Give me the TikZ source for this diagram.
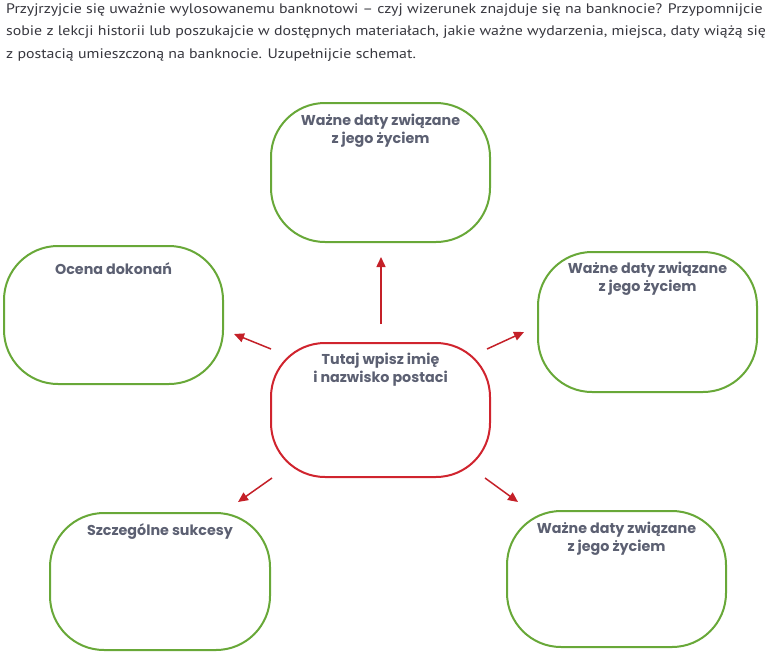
\documentclass[tikz,border=0pt]{standalone}
\usepackage{fontspec}
\setmainfont{PT Sans}
\newfontfamily\headfont[FakeStretch=1.15]{PT Sans}
\newfontfamily\lblfont{Poppins}
\usetikzlibrary{arrows.meta}
\definecolor{boxgreen}{RGB}{104,168,56}
\definecolor{boxred}{RGB}{208,36,46}
\definecolor{arrred}{RGB}{196,32,40}
\definecolor{labelgray}{RGB}{92,96,114}
\definecolor{headgray}{RGB}{55,55,62}
\begin{document}
\begin{tikzpicture}[x=1pt,y=-1pt,
  gbox/.style={draw=boxgreen,line width=2pt,rounded corners=54pt,minimum width=#1,inner sep=0pt},
  rbox/.style={draw=boxred,line width=2pt,rounded corners=54pt,inner sep=0pt},
  lbl/.style={text=labelgray,font=\lblfont\fontsize{14.3}{18}\selectfont\bfseries,align=center,anchor=north,inner sep=0pt},
  head/.style={text=headgray,font=\headfont\fontsize{13.8}{22.5}\selectfont,align=left,anchor=north west,inner sep=0pt},
  arr/.style={draw=arrred,line width=1.5pt,-{Triangle[length=10pt,width=9pt]}}
]
\useasboundingbox (0,0) rectangle (778,653);
\node[head] (hd) at (6,3) {Przyjrzyjcie się uważnie wylosowanemu banknotowi – czyj wizerunek znajduje się na banknocie? Przypomnijcie\\
sobie z lekcji historii lub poszukajcie w dostępnych materiałach, jakie ważne wydarzenia, miejsca, daty wiążą się\\
z postacią umieszczoną na banknocie. Uzupełnijcie schemat.};

\node[gbox=219pt,minimum height=139pt] (t) at (380.5,172.5) {};
\node[gbox=219pt,minimum height=138pt] (l) at (113.5,315) {};
\node[gbox=219pt,minimum height=140pt] (r) at (647.5,322) {};
\node[rbox,minimum width=219pt,minimum height=134pt] (c) at (380.5,410) {};
\node[gbox=220pt,minimum height=137pt] (bl) at (160,581.5) {};
\node[gbox=219pt,minimum height=136pt] (br) at (616.5,579) {};

\node[lbl] (tt) at ([yshift=-12pt]t.north) {Ważne daty związane\\z jego życiem};
\node[lbl] (lt) at ([yshift=-17pt]l.north) {Ocena dokonań};
\node[lbl] (rt) at ([yshift=-11pt]r.north) {Ważne daty związane\\z jego życiem};
\node[lbl] (ct) at ([yshift=-11pt]c.north) {Tutaj wpisz imię\\i nazwisko postaci};
\node[lbl] (blt) at ([yshift=-11pt]bl.north) {Szczególne sukcesy};
\node[lbl] (brt) at ([yshift=-12pt]br.north) {Ważne daty związane\\z jego życiem};

\draw[arr] ([xshift=0.5pt,yshift=18pt]c.north) -- ([xshift=0.5pt,yshift=-14pt]t.south);
\draw[arr] ([shift={(1pt,-7pt)}]c.north west) -- ([shift={(10pt,-19pt)}]l.east);
\draw[arr] ([shift={(-4pt,-7pt)}]c.north east) -- ([shift={(-13pt,-10pt)}]r.west);
\draw[arr] ([shift={(2pt,0pt)}]c.south west) -- ([shift={(-33pt,10pt)}]bl.north east);
\draw[arr] ([shift={(-6pt,0pt)}]c.south east) -- ([shift={(12pt,8pt)}]br.north west);
\end{tikzpicture}
\end{document}
